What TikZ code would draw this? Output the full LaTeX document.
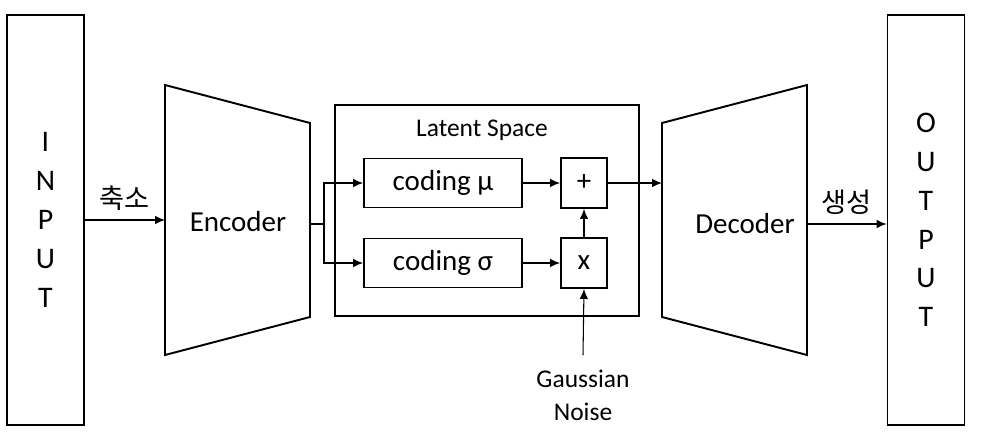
\documentclass[tikz,border=0pt]{standalone}
\usepackage{fontspec}
\setmainfont{Carlito}
\newfontfamily\krfont{Noto Sans CJK KR}
\usetikzlibrary{arrows.meta}

\begin{document}
\begin{tikzpicture}[x=0.2mm, y=-0.2mm,
    iobox/.style={draw=black, line width=1.1pt, inner sep=0pt,
        minimum width=15.4mm, minimum height=82mm, align=center,
        font=\fontsize{17}{22.1}\selectfont},
    codebox/.style={draw=black, line width=1.1pt, inner sep=0pt,
        minimum width=31.6mm, minimum height=9.8mm, font=\fontsize{16.5}{19}\selectfont},
    opbox/.style={draw=black, line width=1.1pt, inner sep=0pt,
        minimum width=9.2mm, minimum height=10mm, font=\fontsize{16.5}{19}\selectfont},
    net/.style={draw=black, line width=1.1pt, line join=miter},
    edge/.style={line width=0.6pt, -{Latex[length=2mm, width=1.7mm]}},
    kr/.style={font=\krfont\fontsize{15.5}{18}\selectfont}
]
    \useasboundingbox (0,0) rectangle (1000,442);
    \node[iobox] (in) at (45.5,220) {I\\N\\P\\U\\T};
    \node[iobox] (out) at (926,220) {O\\U\\T\\P\\U\\T};
    \draw[net] (165,85) -- (310,123) -- (310,317) -- (165,355) -- cycle;
    \draw[net] (662,123) -- (807,85) -- (807,355) -- (662,317) -- cycle;
    \node[font=\fontsize{16.5}{19}\selectfont] (enc) at (238,222) {Encoder};
    \node[font=\fontsize{16.5}{19}\selectfont] (dec) at (745,224) {Decoder};
    \coordinate (enc-w) at (165,220);
    \coordinate (enc-e) at (310,224);
    \coordinate (split) at (324,224);
    \coordinate (dec-w) at (662,220);
    \coordinate (dec-e) at (807,224);
    \coordinate (noise-top) at (583,355);
    \node[draw=black, line width=1.4pt, minimum width=60.8mm, minimum height=42.2mm] (latent) at (487,210.5) {};
    \node[font=\fontsize{14.5}{17}\selectfont] (title) at (482,130) {Latent Space};
    \node[codebox] (mu) at (443,183) {coding μ};
    \node[codebox] (sig) at (443,263) {coding σ};
    \node[opbox] (plus) at (584,183) {+};
    \node[opbox] (times) at (584,263) {x};
    \node[align=center, inner sep=2pt, font=\fontsize{14.5}{18.7}\selectfont] (noise) at (583,395) {Gaussian\\Noise};
    \draw[edge] (in.east |- enc-w) -- node[kr, above=2pt] {축소} (enc-w);
    \draw[line width=0.6pt] (enc-e) -- (split);
    \draw[edge] (split) |- (mu.west);
    \draw[edge] (split) |- (sig.west);
    \draw[edge] (mu) -- (plus);
    \draw[edge] (sig) -- (times);
    \draw[edge] (times) -- (plus);
    \draw[edge] (noise-top) -- (times.south);
    \draw[edge] (plus.east) -- (plus.east -| dec-w);
    \draw[edge] (dec-e) -- node[kr, above=2pt] {생성} (dec-e -| out.west);
\end{tikzpicture}
\end{document}
